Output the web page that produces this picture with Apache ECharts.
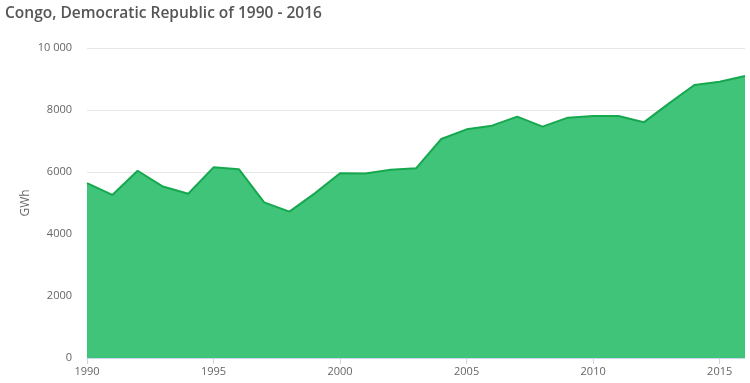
<!DOCTYPE html>
<html><head><meta charset="utf-8">
<script src="https://cdn.jsdelivr.net/npm/echarts@6/dist/echarts.min.js"></script>
<style>html,body{margin:0;padding:0;background:#fff}#c{width:750px;height:383px}</style>
</head><body><div id="c"></div>
<script>
var years = [1990,1991,1992,1993,1994,1995,1996,1997,1998,1999,2000,2001,2002,2003,2004,2005,2006,2007,2008,2009,2010,2011,2012,2013,2014,2015,2016];
var values = [5640,5260,6040,5530,5300,6150,6090,5020,4720,5310,5960,5950,6070,6120,7065,7377,7495,7785,7462,7753,7806,7806,7602,8215,8806,8913,9097];
var yTicks = [0,2000,4000,6000,8000,10000];
var xTicks = [1990,1995,2000,2005,2010,2015];
var titleText = 'Congo, Democratic Republic of 1990 - 2016';
var yName = 'GWh';

var chart = echarts.init(document.getElementById('c'), null, {renderer:'canvas'});
chart.setOption({
  animation:false,
  title:{text:titleText,left:0,top:1,textStyle:{fontFamily:'Open Sans',fontSize:15.5,fontWeight:600,color:'#555555'}},
  grid:{left:87,right:5,top:48,bottom:25},
  graphic:[{type:'text',x:26,y:203,rotation:Math.PI/2,
    style:{text:yName,fill:'#666666',font:'12px "Open Sans"',align:'center',verticalAlign:'middle'}}],
  xAxis:{type:'value',min:1990,max:2016,interval:5,
    axisLine:{show:true,lineStyle:{color:'#ccd6eb'}},
    axisTick:{show:true,length:6,lineStyle:{color:'#ccd6eb'}},
    splitLine:{show:false},
    axisLabel:{color:'#666666',fontFamily:'Open Sans',fontSize:11,margin:8,showMaxLabel:false,
      formatter:function(v){return xTicks.indexOf(v)>=0?String(v):'';}}},
  yAxis:{type:'value',min:0,max:10000,interval:2000,
    axisLine:{show:false},axisTick:{show:false},
    splitLine:{lineStyle:{color:'#e6e6e6'}},
    axisLabel:{color:'#666666',fontFamily:'Open Sans',fontSize:11,margin:15,
      formatter:function(v){return v>=10000?String(v).replace(/(\d)(?=(\d{3})+$)/g,'$1 '):String(v);}}},
  series:[{type:'line',data:years.map(function(y,i){return [y,values[i]];}),
    symbol:'none',lineStyle:{color:'#16a84f',width:2},
    areaStyle:{color:'#40c47a',opacity:1}}]
});
</script></body></html>
